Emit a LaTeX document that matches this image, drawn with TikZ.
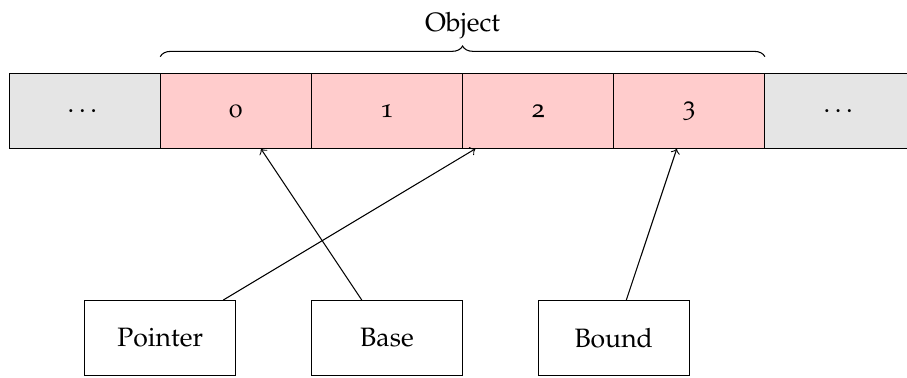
\documentclass[tikz,border=0pt]{standalone}
\usepackage[T1]{fontenc}
\usepackage[osf]{mathpazo}
\usetikzlibrary{decorations.pathreplacing}
\tikzset{
  cell/.style={draw, minimum width=2cm, minimum height=1cm, inner sep=0pt, outer sep=0pt},
  objcell/.style={cell, fill=red!20},
  othercell/.style={cell, fill=gray!20},
  regbox/.style={draw, minimum width=2cm, minimum height=1cm, inner sep=0pt, outer sep=0pt},
  ptr/.style={->, >=to}
}
\begin{document}
\begin{tikzpicture}
\useasboundingbox (-0.12,-0.03) rectangle (11.88,4.97);
\node[othercell] (cl) at (1,3.5) {\dots};
\node[objcell] (c0) at (3,3.5) {0};
\node[objcell] (c1) at (5,3.5) {1};
\node[objcell] (c2) at (7,3.5) {2};
\node[objcell] (c3) at (9,3.5) {3};
\node[othercell] (cr) at (11,3.5) {\dots};
\draw[decorate, decoration={brace, amplitude=4pt}] (2,4.22) coordinate (bl) -- (10,4.22) coordinate (br);
\node (obj) at (6,4.63) {Object};
\node[regbox] (pointer) at (2,0.5) {Pointer};
\node[regbox] (base) at (5,0.5) {Base};
\node[regbox] (bound) at (8,0.5) {Bound};
\draw[ptr] (pointer) -- (c2);
\draw[ptr] (base) -- (c0);
\draw[ptr] (bound) -- (c3);
\end{tikzpicture}
\end{document}
